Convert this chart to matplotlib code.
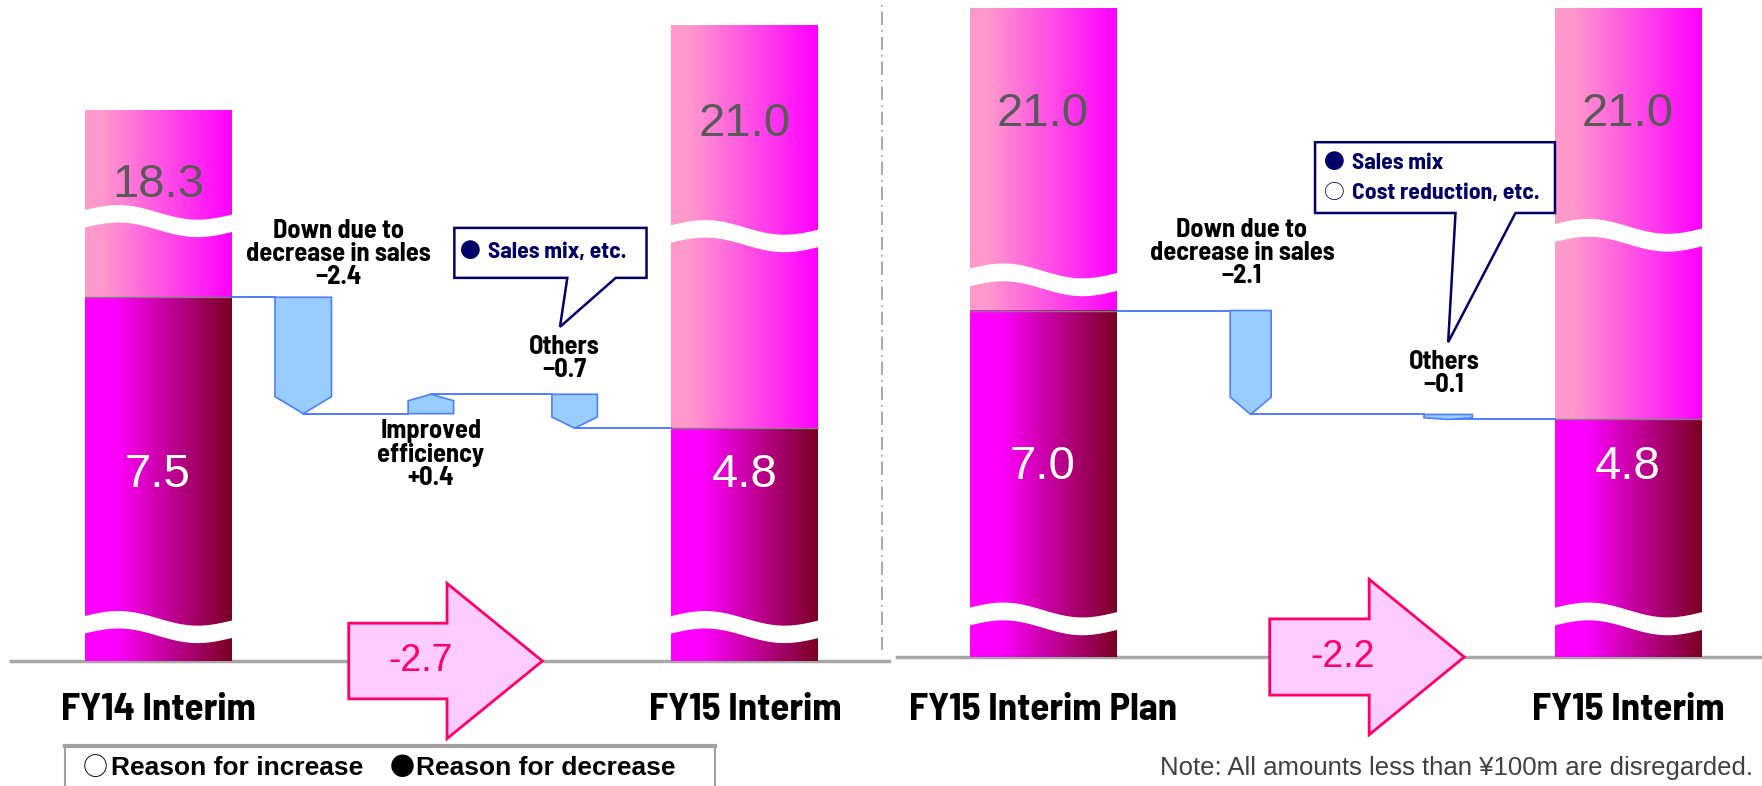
import numpy as np
import matplotlib.pyplot as plt
from matplotlib.patches import Polygon
from matplotlib.lines import Line2D
from matplotlib.colors import LinearSegmentedColormap

# ---- data (100 million yen) ----
left_periods = ['FY14 Interim', 'FY15 Interim']
left_sales = [18.3, 21.0]
left_profit = [7.5, 4.8]
left_factors = ['Down due to\ndecrease in sales', 'Improved\nefficiency', 'Others']
left_deltas = [-2.4, 0.4, -0.7]
left_change = -2.7
left_callout = [('\u25cf', 'Sales mix, etc.')]

right_periods = ['FY15 Interim Plan', 'FY15 Interim']
right_sales = [21.0, 21.0]
right_profit = [7.0, 4.8]
right_factors = ['Down due to\ndecrease in sales', 'Others']
right_deltas = [-2.1, -0.1]
right_change = -2.2
right_callout = [('\u25cf', 'Sales mix'), ('\u25cb', 'Cost reduction, etc.')]

legend_items = [('\u25cb', 'Reason for increase'), ('\u25cf', 'Reason for decrease')]
note_text = 'Note: All amounts less than \u00a5100m are disregarded.'

# ---- style / layout ----
W, H = 1762, 786
COND = ['Barlow Semi Condensed', 'DejaVu Sans']
REG = ['Liberation Sans', 'DejaVu Sans']
CIRC = ['Noto Sans CJK JP', 'DejaVu Sans']
NAVY = '#000066'
PINK_RED = '#FF0066'
BAR_X = [0, 4]
BAR_W = 1.0

pink_cmap = LinearSegmentedColormap.from_list('pink', [(0, '#FF99CC'), (0.12, '#FF99CC'), (1, '#FF00FF')])
dark_cmap = LinearSegmentedColormap.from_list('dark', [(0, '#FF00FF'), (0.2, '#FF00FF'), (1, '#7A0022')])


def broken(v):
    # sales part of the bars sits on a compressed (broken) scale
    return 0.652 * v - 0.59


def signed(v):
    return f'{v:+.1f}'.replace('-', '\u2212')


def gradient_bar(ax, x, y0, y1, cmap):
    grad = np.linspace(0, 1, 256).reshape(1, -1)
    ax.imshow(grad, cmap=cmap, extent=(x - BAR_W / 2, x + BAR_W / 2, y0, y1),
              aspect='auto', interpolation='bilinear', zorder=2)


def wave_break(ax, x, yc, amp=0.13, thick=0.36):
    t = np.linspace(0, 1, 80)
    xs = x - BAR_W / 2 - 0.01 + t * (BAR_W + 0.02)
    off = amp * np.sin(2 * np.pi * t) - 0.08 * t
    top = np.column_stack([xs, yc + thick / 2 + off])
    bot = np.column_stack([xs[::-1], (yc - thick / 2 + off)[::-1]])
    ax.add_patch(Polygon(np.vstack([top, bot]), closed=True, fc='white', ec='none', zorder=3))


def step_shape(ax, x, w, start, delta):
    end = start + delta
    tip = np.sign(delta) * min(0.35, 0.33 * abs(delta))
    sh = end - tip
    verts = [(x - w / 2, start), (x + w / 2, start), (x + w / 2, sh), (x, end), (x - w / 2, sh)]
    ax.add_patch(Polygon(verts, closed=True, fc='#99CCFF', ec='#4D7FFF', lw=1.2, zorder=4))


def draw_panel(ax, periods, sales, profit, factors, deltas, change, callout, lay):
    # baseline
    ax.plot(lay['base'], [0, 0], color='#A6A6A6', lw=2.5, zorder=1, clip_on=False)

    # stacked bars
    for i, x in enumerate(BAR_X):
        top = broken(sales[i])
        gradient_bar(ax, x, profit[i], top, pink_cmap)
        gradient_bar(ax, x, 0, profit[i], dark_cmap)
        ax.plot([x - BAR_W / 2, x + BAR_W / 2], [profit[i]] * 2, color='#808080', lw=1, zorder=3)
        wave_break(ax, x, lay['breaks'][i][0])
        wave_break(ax, x, lay['breaks'][i][1])
        ax.text(x, lay['sales_y'][i], f'{sales[i]:.1f}', ha='center', va='center',
                fontsize=34, color='#595959', family=REG, zorder=5)
        ax.text(x, 3.83, f'{profit[i]:.1f}', ha='center', va='center',
                fontsize=34, color='white', family=REG, zorder=5)
        ax.text(x, lay['cat_y'], periods[i], ha='center', va='center',
                fontsize=28, fontweight='bold', family=COND)

    # waterfall of factors
    level = profit[0]
    prev_x = BAR_X[0] + BAR_W / 2
    for j, d in enumerate(deltas):
        sx, sw = lay['step_x'][j], lay['step_w'][j]
        ax.plot([prev_x, sx - sw / 2], [level, level], color='#3366FF', lw=1.2, zorder=3)
        step_shape(ax, sx, sw, level, d)
        lx, dy, va = lay['labels'][j]
        ly = max(level, level + d) + dy if va == 'bottom' else min(level, level + d) + dy
        ax.text(lx, ly, factors[j] + '\n' + signed(d), ha='center', va=va, ma='center',
                fontsize=19, fontweight='bold', family=COND, linespacing=0.95, zorder=6)
        level += d
        prev_x = sx
    ax.plot([prev_x, BAR_X[1] - BAR_W / 2], [level, level], color='#3366FF', lw=1.2, zorder=3)

    # big change arrow on the baseline
    t0, t1, t2, bh, hh, tx = lay['arrow']
    verts = [(t0, bh), (t1, bh), (t1, hh), (t2, 0), (t1, -hh), (t1, -bh), (t0, -bh)]
    ax.add_patch(Polygon(verts, closed=True, fc='#FFCCFF', ec=PINK_RED, lw=2, zorder=6, clip_on=False))
    ax.text(tx, 0, f'{change:.1f}', ha='center', va='center', fontsize=27,
            color=PINK_RED, family=REG, zorder=7)

    # callout box
    x0, x1, yt, yb = lay['box']
    b1, b2, px, py = lay['tail']
    verts = [(x0, yt), (x1, yt), (x1, yb), (b2, yb), (px, py), (b1, yb), (x0, yb)]
    ax.add_patch(Polygon(verts, closed=True, fc='white', ec=NAVY, lw=1.8, zorder=7))
    for k, (mark, line) in enumerate(callout):
        ax.text(lay['box_mx'], lay['box_ty'][k], mark, ha='left', va='center', fontsize=15,
                color=NAVY, family=CIRC, zorder=8)
        ax.text(lay['box_tx'], lay['box_ty'][k], line, ha='left', va='center', fontsize=17,
                fontweight='bold', color=NAVY, family=COND, zorder=8)


left_layout = {
    'base': [-1.0, 4.98],
    'breaks': [(9.11, 0.74), (8.80, 0.74)],
    'sales_y': [9.81, 11.08],
    'cat_y': -1.01,
    'step_x': [0.99, 1.86, 2.84],
    'step_w': [0.385, 0.31, 0.31],
    'labels': [(1.23, 0.17, 'bottom'), (1.86, -0.12, 'top'), (2.77, 0.25, 'bottom')],
    'arrow': (1.30, 1.97, 2.62, 0.78, 1.60, 1.79),
    'box': (2.02, 3.33, 8.93, 7.90),
    'tail': (2.79, 3.12, 2.74, 6.89),
    'box_mx': 2.06,
    'box_tx': 2.25,
    'box_ty': [8.43],
}
right_layout = {
    'base': [-1.0, 4.92],
    'breaks': [(7.66, 0.81), (8.56, 0.81)],
    'sales_y': [10.98, 10.98],
    'cat_y': -1.07,
    'step_x': [1.42, 2.77],
    'step_w': [0.28, 0.33],
    'labels': [(1.36, 0.45, 'bottom'), (2.74, 0.35, 'bottom')],
    'arrow': (1.55, 2.23, 2.88, 0.77, 1.57, 2.05),
    'box': (1.86, 3.50, 10.40, 8.97),
    'tail': (2.82, 3.23, 2.77, 6.36),
    'box_mx': 1.92,
    'box_tx': 2.11,
    'box_ty': [9.98, 9.37],
}

fig = plt.figure(figsize=(W / 100, H / 100), dpi=100)
ax_l = fig.add_axes([0, 0, 882 / W, 1])
ax_r = fig.add_axes([882 / W, 0, 880 / W, 1])

draw_panel(ax_l, left_periods, left_sales, left_profit, left_factors, left_deltas,
           left_change, left_callout, left_layout)
draw_panel(ax_r, right_periods, right_sales, right_profit, right_factors, right_deltas,
           right_change, right_callout, right_layout)

# legend box (bottom left) and note (bottom right)
ax_l.plot([-0.634, 3.80], [-1.75, -1.75], color='#A0A0A0', lw=3, clip_on=False)
ax_l.plot([-0.634, -0.634], [-1.75, -2.7], color='#A0A0A0', lw=1.5, clip_on=False)
ax_l.plot([3.80, 3.80], [-1.75, -2.7], color='#A0A0A0', lw=1.5, clip_on=False)
for (mark, label), mx, lx in zip(legend_items, [-0.51, 1.58], [-0.32, 1.76]):
    ax_l.text(mx, -2.21, mark, ha='left', va='center', fontsize=18, family=CIRC)
    ax_l.text(lx, -2.21, label, ha='left', va='center', fontsize=19,
              fontweight='bold', family=REG)
ax_r.text(0.80, -2.24, note_text, ha='left', va='center', fontsize=18.5,
          color='#404040', family=REG)

# dashed separator between the two panels
fig.add_artist(Line2D([882 / W, 882 / W], [1 - 650 / H, 1], transform=fig.transFigure,
                      color='#999999', lw=1.2, linestyle=(0, (8, 3, 1, 3))))

ax_l.set_xlim(-1.077, 4.935)
ax_l.set_ylim(-2.577, 13.629)
ax_r.set_xlim(-1.10, 4.915)
ax_r.set_ylim(-2.606, 13.273)
for ax in (ax_l, ax_r):
    ax.axis('off')

fig.savefig('out.png', dpi=100)
